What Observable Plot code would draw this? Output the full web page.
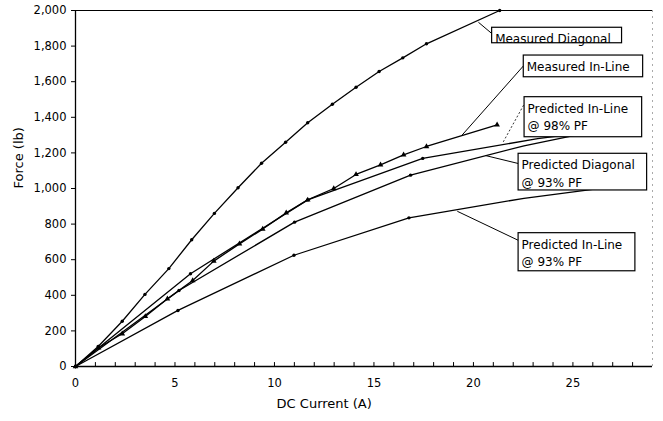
<!DOCTYPE html>
<html><head><meta charset="utf-8">
<script src="https://cdn.jsdelivr.net/npm/d3@7"></script>
<script src="https://cdn.jsdelivr.net/npm/@observablehq/plot@0.6"></script>
<style>
body{margin:0;background:#fff;}
#chart{width:663px;height:421px;}
</style></head><body><div id="chart"></div>
<script>
// ---- data (DC current in A, force in lb) ----
const measDiagCurrent = [0, 1.14, 2.35, 3.49, 4.69, 5.84, 6.98, 8.17, 9.35, 10.56, 11.67, 12.91, 14.10, 15.26, 16.45, 17.64, 21.32];
const measDiagForce   = [0, 112, 254, 405, 550, 712, 860, 1004, 1142, 1260, 1369, 1473, 1569, 1657, 1734, 1813, 2000];

const measInCurrent = [0, 1.16, 2.35, 3.51, 4.62, 5.89, 6.95, 8.24, 9.41, 10.59, 11.67, 12.98, 14.10, 15.33, 16.49, 17.64, 21.19];
const measInForce   = [0, 105, 184, 281, 380, 483, 592, 689, 772, 863, 936, 1000, 1079, 1133, 1189, 1236, 1358];

const pred98Current = [0, 5.78, 11.67, 17.45, 23.23, 26.0];
const pred98Force   = [0, 521, 936, 1169, 1280, 1320];

const predDiagCurrent = [0, 5.20, 11.01, 16.84, 22.54, 26.0];
const predDiagForce   = [0, 427, 811, 1075, 1240, 1320];

const pred93Current = [0, 5.15, 10.98, 16.76, 22.54, 28.0];
const pred93Force   = [0, 315, 625, 835, 945, 1025];

const seriesNames = ["Measured Diagonal", "Measured In-Line", "Predicted In-Line @ 98% PF", "Predicted Diagonal @ 93% PF", "Predicted In-Line @ 93% PF"];
const seriesCurrent = [measDiagCurrent, measInCurrent, pred98Current, predDiagCurrent, pred93Current];
const seriesForce = [measDiagForce, measInForce, pred98Force, predDiagForce, pred93Force];
const seriesKind = ["measured", "measured", "predicted", "predicted", "predicted"];
const seriesSymbol = ["circle", "triangle", "circle", "circle", "circle"];

// axis ticks and labels
const xMax = 29;
const yTicks = [0, 200, 400, 600, 800, 1000, 1200, 1400, 1600, 1800, 2000];
const xTicks = [0, 5, 10, 15, 20, 25];
const xMinorTicks = d3.range(1, 29);

// callout labels
const calloutText = ["Measured Diagonal", "Measured In-Line", "Predicted In-Line\n@ 98% PF", "Predicted Diagonal\n@ 93% PF", "Predicted In-Line\n@ 93% PF"];
const boxLeft   = [20.94, 22.53, 22.57, 22.27, 22.27];
const boxRight  = [27.47, 28.53, 28.48, 28.73, 28.14];
const boxTop    = [1903, 1747, 1513, 1195, 749];
const boxBottom = [1816, 1625, 1288, 989, 535];
const leaderFromX = [20.25, 19.43, 21.50, 20.61, 19.19];
const leaderFromY = [1934, 1300, 1262, 1185, 872];
const leaderToX   = [20.94, 22.53, 22.57, 22.27, 22.27];
const leaderToY   = [1869, 1691, 1478, 1140, 708];
const leaderDash  = [false, false, true, false, false];

// ---- build tables ----
const rows = [];
seriesNames.forEach((s, i) => {
  seriesCurrent[i].forEach((c, j) => rows.push({series: s, I: c, F: seriesForce[i][j], kind: seriesKind[i], sym: seriesSymbol[i]}));
});
// predicted curves are only marked at their first computed steps; the tails run under the labels
const marked = rows.filter(d => d.kind === "measured" || d.I <= 17.5);
const callouts = calloutText.map((t, i) => ({
  text: t, x1: boxLeft[i], x2: boxRight[i], y1: boxBottom[i], y2: boxTop[i],
  lx1: leaderFromX[i], ly1: leaderFromY[i], lx2: leaderToX[i], ly2: leaderToY[i], dash: leaderDash[i]
}));

const font = "DejaVu Sans, Liberation Sans, Arial, sans-serif";

const chart = Plot.plot({
  width: 663, height: 421,
  marginLeft: 75, marginRight: 11, marginTop: 10, marginBottom: 55,
  style: {fontFamily: font, fontSize: "12px", background: "white", color: "black"},
  x: {domain: [0, xMax]},
  y: {domain: [0, 2000]},
  marks: [
    Plot.ruleY([2000], {stroke: "black", strokeWidth: 1}),
    Plot.ruleX([xMax], {stroke: "#aaa", strokeDasharray: "2,4"}),
    Plot.line(rows, {x: "I", y: "F", z: "series", stroke: "black", strokeWidth: 1.3}),
    Plot.dot(marked.filter(d => d.sym === "circle"), {x: "I", y: "F", r: 1.7, fill: "black", symbol: "circle"}),
    Plot.dot(marked.filter(d => d.sym === "triangle"), {x: "I", y: "F", r: 2.1, fill: "black", symbol: "triangle"}),
    Plot.link(callouts.filter(d => !d.dash), {x1: "lx1", y1: "ly1", x2: "lx2", y2: "ly2", stroke: "black", strokeWidth: 1}),
    Plot.link(callouts.filter(d => d.dash), {x1: "lx1", y1: "ly1", x2: "lx2", y2: "ly2", stroke: "black", strokeWidth: 0.8, strokeDasharray: "2,2"}),
    Plot.rect(callouts, {x1: "x1", x2: "x2", y1: "y1", y2: "y2", fill: "white", stroke: "black", strokeWidth: 1.2}),
    Plot.text(callouts, {x: "x1", y: "y2", text: "text", textAnchor: "start", lineAnchor: "top", dx: 3, dy: 3, fontSize: 12, lineHeight: 1.45, fill: "black"}),
    Plot.ruleX(xMinorTicks, {y1: 0, y2: 22, stroke: "black", strokeWidth: 1}),
    Plot.ruleX([0], {stroke: "black", strokeWidth: 1.3}),
    Plot.ruleY([0], {stroke: "black", strokeWidth: 1.3}),
    Plot.axisY(yTicks, {tickSize: 4, tickPadding: 5, tickFormat: d3.format(","), label: null, fontSize: 11.5}),
    Plot.axisX(xTicks, {tickSize: 0, tickPadding: 12, tickFormat: d => String(d), label: null, fontSize: 11.5}),
    Plot.text(["Force (lb)"], {frameAnchor: "left", rotate: -90, dx: -57, fontSize: 13, fill: "black"}),
    Plot.text(["DC Current (A)"], {x: [12.5], frameAnchor: "bottom", dy: 41, fontSize: 13, fill: "black"})
  ]
});
document.getElementById("chart").appendChild(chart);
</script>
</body></html>
